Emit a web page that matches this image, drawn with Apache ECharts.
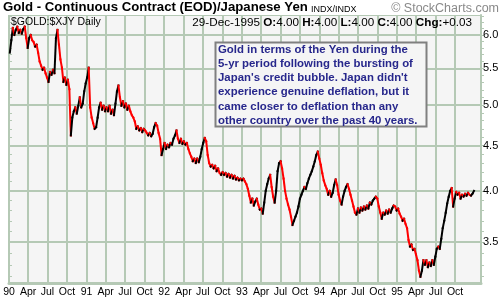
<!DOCTYPE html>
<html><head><meta charset="utf-8">
<script src="https://cdn.jsdelivr.net/npm/echarts@6/dist/echarts.min.js"></script>
<style>html,body{margin:0;padding:0;background:#fff}#c{width:502px;height:298px}</style>
</head><body><div id="c"></div>
<script>
// Weekly closes (Fridays), starting 1990-01-05, ending 1995-12-29
const firstWeek = '1990-01-05';
const closes1990 = [5.73,5.92,6.11,6.00,6.08,6.13,6.03,6.08,6.02,6.09,6.13,5.95,5.80,
  5.95,6.00,5.92,5.89,5.82,5.85,5.73,5.60,5.54,5.48,5.51,5.43,5.37,
  5.31,5.45,5.41,5.48,5.43,5.95,6.08,5.85,5.63,5.51,5.31,5.37,5.27,
  5.34,5.21,4.62,4.84,4.92,4.97,4.89,4.99,5.10,4.97,5.02,5.18,5.29];
const closes1991 = [5.37,5.51,4.97,4.84,4.77,4.70,4.72,4.84,4.97,5.03,4.94,4.99,4.92,
  4.97,4.92,4.99,4.89,4.94,4.87,5.02,5.18,5.26,5.10,4.99,5.05,4.97,
  5.02,4.94,4.99,4.92,4.87,4.84,4.79,4.70,4.73,4.68,4.71,4.66,4.70,
  4.68,4.65,4.62,4.65,4.61,4.64,4.72,4.77,4.74,4.65,4.58,4.39,4.46];
const closes1992 = [4.53,4.46,4.51,4.48,4.53,4.51,4.58,4.62,4.68,4.58,4.53,4.58,4.52,
  4.55,4.51,4.53,4.46,4.41,4.37,4.32,4.35,4.30,4.35,4.31,4.37,4.46,
  4.53,4.59,4.55,4.39,4.30,4.26,4.28,4.24,4.27,4.21,4.24,4.19,4.17,
  4.20,4.17,4.19,4.15,4.18,4.14,4.17,4.13,4.16,4.12,4.14,4.11,4.13];
const closes1993 = [4.11,4.13,4.10,4.07,4.02,3.95,3.88,3.92,3.85,3.89,3.92,3.86,3.81,
  3.82,3.77,3.88,4.00,4.07,4.13,4.17,4.04,3.94,3.88,4.00,4.21,4.30,
  4.32,4.24,4.13,4.00,3.92,3.86,3.81,3.74,3.66,3.70,3.74,3.78,3.84,
  3.92,3.96,4.00,4.04,4.02,4.08,4.13,4.17,4.21,4.26,4.32,4.39,4.43];
const closes1994 = [4.35,4.28,4.19,4.11,4.06,4.02,3.96,4.00,3.94,3.98,4.06,4.12,4.06,
  3.96,3.90,3.86,3.94,4.00,4.04,4.07,4.02,3.96,3.90,3.84,3.78,3.76,
  3.82,3.78,3.83,3.80,3.84,3.81,3.85,3.82,3.88,3.86,3.90,3.92,3.94,
  3.92,3.84,3.78,3.72,3.78,3.76,3.80,3.77,3.81,3.78,3.82,3.85,3.84];
const closes1995 = [3.80,3.82,3.77,3.74,3.70,3.72,3.67,3.63,3.52,3.46,3.48,3.43,3.44,
  3.39,3.34,3.25,3.20,3.25,3.34,3.30,3.34,3.28,3.32,3.29,3.34,3.30,
  3.37,3.44,3.46,3.44,3.53,3.63,3.70,3.78,3.87,3.94,4.00,4.03,3.84,
  3.92,3.99,3.96,3.98,3.92,3.96,3.94,3.97,3.95,3.98,3.96,3.95,3.97,4.00];

const quarterTicks = ['1990-01-01','1990-04-01','1990-07-01','1990-10-01',
  '1991-01-01','1991-04-01','1991-07-01','1991-10-01',
  '1992-01-01','1992-04-01','1992-07-01','1992-10-01',
  '1993-01-01','1993-04-01','1993-07-01','1993-10-01',
  '1994-01-01','1994-04-01','1994-07-01','1994-10-01',
  '1995-01-01','1995-04-01','1995-07-01','1995-10-01'];
const quarterLabels = ['90','Apr','Jul','Oct','91','Apr','Jul','Oct','92','Apr','Jul','Oct',
  '93','Apr','Jul','Oct','94','Apr','Jul','Oct','95','Apr','Jul','Oct'];
const yMajorTicks = [3.5,4.0,4.5,5.0,5.5,6.0];
const yMinorTicks = [3.2,3.3,3.4,3.5,3.6,3.7,3.8,3.9,4.0,4.1,4.2,4.3,4.4,4.5,4.6,4.7,4.8,4.9,
  5.0,5.1,5.2,5.3,5.4,5.5,5.6,5.7,5.8,5.9,6.0,6.1,6.2,6.3];

const DAY = 86400000;
const t0 = new Date(firstWeek).getTime();
const closes = [].concat(closes1990,closes1991,closes1992,closes1993,closes1994,closes1995);
const segs = [];
for (let i = 1; i < closes.length; i++) {
  segs.push([t0 + (i-1)*7*DAY, Math.log(closes[i-1]), t0 + i*7*DAY, Math.log(closes[i])]);
}
const qTs = quarterTicks.map(s => new Date(s).getTime());
const qLabelMap = {};
qTs.forEach((t,i) => qLabelMap[t] = quarterLabels[i]);

const yMin = Math.log(6) - 249/386, yMax = Math.log(6) + 20/386;
const gridColor = '#b5c9b5';
const FONT = 'Liberation Sans, Arial, sans-serif';
const chart = echarts.init(document.getElementById('c'), null, {renderer:'canvas'});
chart.setOption({
  animation: false,
  backgroundColor: '#ffffff',
  textStyle: {fontFamily: FONT},
  grid: {left: 9, right: 21, top: 15, bottom: 14, show: true, backgroundColor: '#f5f5f5', borderWidth: 0},
  xAxis: {
    type: 'value',
    min: new Date('1990-01-01').getTime(),
    max: new Date('1996-01-31').getTime(),
    axisLine: {show: true, lineStyle: {color: gridColor, width: 3}},
    axisTick: {show: false, customValues: qTs},
    axisLabel: {customValues: qTs, formatter: v => qLabelMap[v] || '', color: '#000', fontSize: 10.5, margin: 4, hideOverlap: false},
    splitLine: {show: true, lineStyle: {color: gridColor, width: 2}}
  },
  yAxis: [
    {
      type: 'value', min: yMin, max: yMax, position: 'left',
      axisLine: {show: false},
      axisTick: {show: true, inside: true, length: 3, customValues: yMinorTicks.map(Math.log), lineStyle: {color: gridColor, width: 1}},
      axisLabel: {show: false},
      splitLine: {show: false}
    },
    {
      type: 'value', min: yMin, max: yMax, position: 'right',
      axisLine: {show: true, lineStyle: {color: gridColor, width: 2}},
      axisTick: {show: true, length: 3, customValues: yMinorTicks.map(Math.log), lineStyle: {color: gridColor, width: 1}},
      axisLabel: {customValues: yMajorTicks.map(Math.log), formatter: v => Math.exp(v).toFixed(1), color: '#000', fontSize: 11, margin: 2},
      splitLine: {show: false}
    },
    {
      type: 'value', min: yMin, max: yMax, position: 'left',
      axisLine: {show: false},
      axisTick: {show: false, customValues: yMajorTicks.map(Math.log)},
      axisLabel: {show: false},
      splitLine: {show: true, lineStyle: {color: gridColor, width: 2}}
    }
  ],
  series: [{
    type: 'custom',
    yAxisIndex: 0,
    z: 5,
    data: segs,
    encode: {x: [0,2], y: [1,3]},
    renderItem: function(params, api) {
      const a = api.coord([api.value(0), api.value(1)]);
      const b = api.coord([api.value(2), api.value(3)]);
      const down = api.value(3) < api.value(1);
      return {type: 'line', shape: {x1: a[0], y1: a[1], x2: b[0], y2: b[1]},
        style: {stroke: down ? '#ff0000' : '#000000', lineWidth: 2, lineCap: 'square'}};
    }
  }],
  graphic: [
    {type: 'line', z: 20, shape: {x1: 9, y1: 15.5, x2: 481, y2: 15.5}, style: {stroke: gridColor, lineWidth: 1}},
    {type: 'text', z: 20, left: 3, top: 1, style: {text: 'Gold - Continuous Contract (EOD)/Japanese Yen', font: 'bold 13.2px ' + FONT, fill: '#000'}},
    {type: 'text', z: 20, left: 311, top: 5, style: {text: 'INDX/INDX', font: '9px ' + FONT, fill: '#000'}},
    {type: 'text', z: 20, right: 3, top: 2, style: {text: '© StockCharts.com', font: '12.5px ' + FONT, fill: '#8a8a8a'}},
    {type: 'text', z: 20, left: 11, top: 17, style: {text: '$GOLD:$XJY Daily', font: '10.5px ' + FONT, fill: '#000'}},
    {type: 'text', z: 20, right: 30, top: 16.5, style: {
      text: '29-Dec-1995 {b|O:}4.00 {b|H:}4.00 {b|L:}4.00 {b|C:}4.00 {b|Chg:}+0.03',
      font: '11.7px ' + FONT, fill: '#000',
      rich: {b: {fontWeight: 'bold', fontSize: 11.7, fontFamily: FONT, fill: '#000'}}}},
    {type: 'rect', z: 20, shape: {x: 215.5, y: 42.5, width: 211, height: 84},
      style: {fill: '#f5f5f5', stroke: '#808080', lineWidth: 2}},
    {type: 'text', z: 21, left: 218, top: 43, style: {
      text: "Gold in terms of the Yen during the\n5-yr period following the bursting of\nJapan's credit bubble. Japan didn't\nexperience genuine deflation, but it\ncame closer to deflation than any\nother country over the past 40 years.",
      font: 'bold 11.4px ' + FONT, fill: '#27278c', lineHeight: 14.1}}
  ]
});
</script></body></html>
